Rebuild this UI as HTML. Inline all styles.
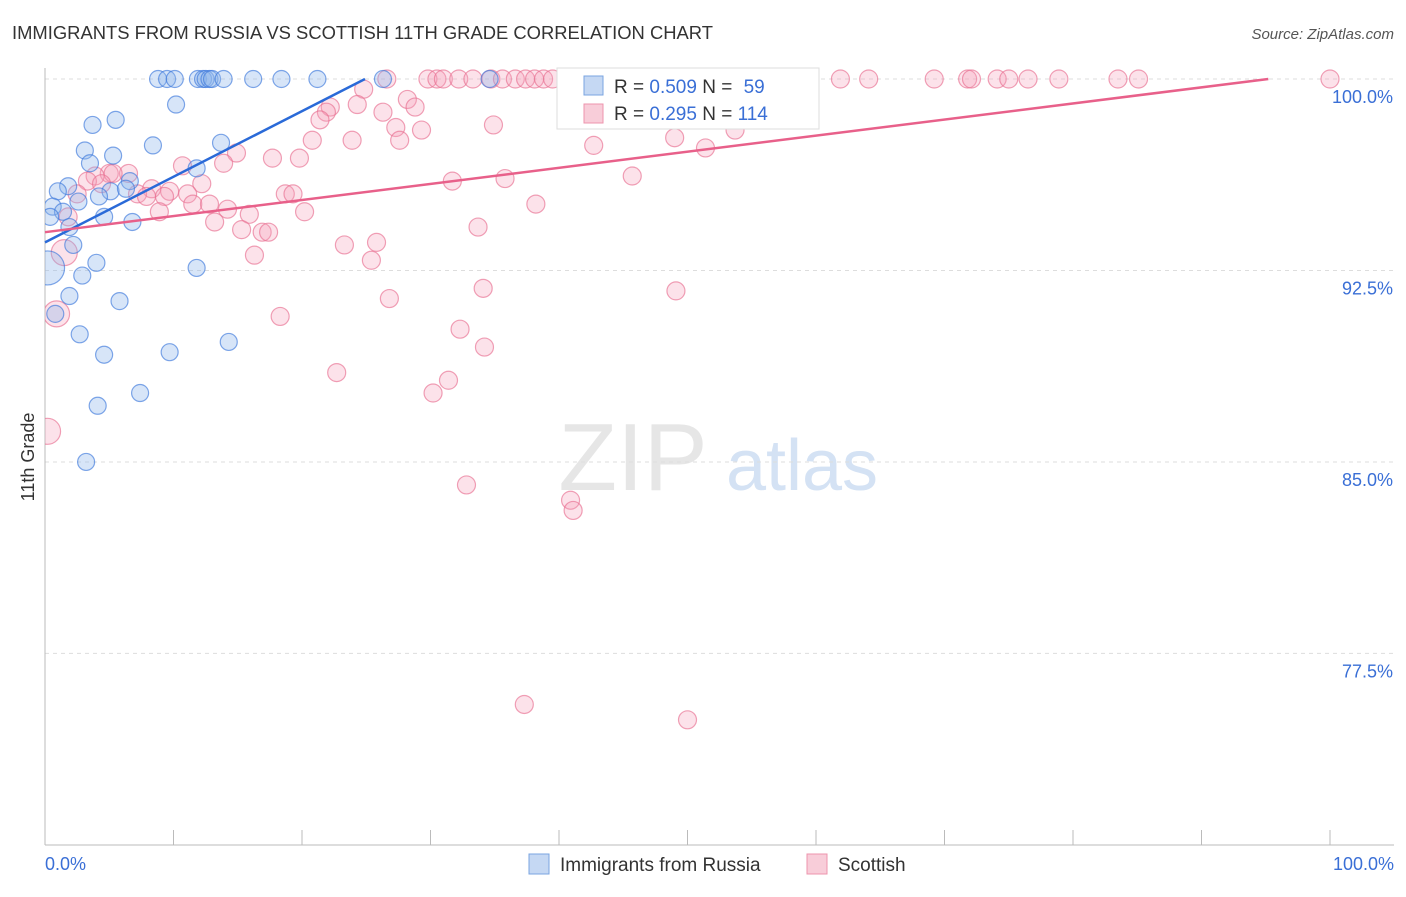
<!DOCTYPE html>
<html><head><meta charset="utf-8"><style>
body{margin:0;background:#fff;font-family:"Liberation Sans",sans-serif;}
svg text{font-family:"Liberation Sans",sans-serif;}
</style></head><body>
<svg id="chart" width="1406" height="892" viewBox="0 0 1406 892" xmlns="http://www.w3.org/2000/svg">
<defs><clipPath id="plotClip"><rect x="45" y="60" width="1360" height="785"/></clipPath></defs>
<text x="12" y="39" font-size="18.4" fill="#333">IMMIGRANTS FROM RUSSIA VS SCOTTISH 11TH GRADE CORRELATION CHART</text>
<text x="1394" y="39" font-size="15" fill="#555" text-anchor="end" font-style="italic">Source: ZipAtlas.com</text>
<g>
<text x="633" y="490" font-size="96" fill="#e6e6e6" font-family="Liberation Serif,serif" text-anchor="middle">ZIP</text>
<text x="802" y="490" font-size="72" fill="#d4e2f4" text-anchor="middle">atlas</text>
</g>
<g id="grid"></g>
<g id="axes"></g>
<text transform="translate(34,457) rotate(-90)" font-size="18" fill="#333" text-anchor="middle">11th Grade</text>
<g id="pinkPts" clip-path="url(#plotClip)"></g>
<g id="bluePts" clip-path="url(#plotClip)"></g>
<g id="lines"></g>
<g>
<rect x="557" y="68" width="262" height="61" fill="#fff" stroke="#ddd"/>
<rect x="584" y="76" width="19" height="19" fill="#c5d8f3" stroke="#7aa4e0"/>
<text x="614" y="93" font-size="19" fill="#333">R = <tspan fill="#3a6fd6">0.509</tspan>   N = <tspan fill="#3a6fd6" dx="6">59</tspan></text>
<rect x="584" y="104" width="19" height="19" fill="#f8cdd9" stroke="#ee94ad"/>
<text x="614" y="120" font-size="19" fill="#333">R = <tspan fill="#3a6fd6">0.295</tspan>   N = <tspan fill="#3a6fd6">114</tspan></text>
</g>
<g>
<rect x="529" y="854" width="20" height="20" fill="#c5d8f3" stroke="#7aa4e0"/>
<text x="560" y="871" font-size="19" fill="#333">Immigrants from Russia</text>
<rect x="807" y="854" width="20" height="20" fill="#f8cdd9" stroke="#ee94ad"/>
<text x="838" y="871" font-size="19" fill="#333">Scottish</text>
</g>
</svg>
<script>
const yTicks=[100,92.5,85,77.5];
const yTickLabels=["100.0%","92.5%","85.0%","77.5%"];
const xEndLabels=["0.0%","100.0%"];
const blueX=[8.8,9.5,10.1,11.9,12.3,12.5,12.8,13.0,13.9,16.2,18.4,21.2,26.3,34.6,10.2,5.5,3.7,8.4,13.7,3.1,5.3,3.5,11.8,6.6,1.8,1.0,5.1,4.2,6.3,2.6,0.6,1.4,4.6,6.8,1.9,0.4,2.2,4.0,11.8,0.2,2.9,1.9,5.8,0.8,2.7,14.3,4.6,9.7,7.4,4.1,3.2];
const blueY=[100,100,100,100,100,100,100,100,100,100,100,100,100,100,99.0,98.4,98.2,97.4,97.5,97.2,97.0,96.7,96.5,96.0,95.8,95.6,95.6,95.4,95.7,95.2,95.0,94.8,94.6,94.4,94.2,94.6,93.5,92.8,92.6,92.6,92.3,91.5,91.3,90.8,90.0,89.7,89.2,89.3,87.7,87.2,85.0];
const pinkX=[26.6,29.8,30.5,31.0,32.2,33.3,34.7,35.6,36.6,37.4,38.1,38.8,39.5,41.4,43.0,44.1,45.5,46.9,48.2,50.2,51.9,52.8,54.7,56.3,58.4,59.2,61.9,64.1,69.2,71.8,72.1,74.1,75.0,76.5,78.9,83.5,85.1,100,
24.8,22.2,24.3,28.2,28.8,21.9,21.4,26.3,27.3,29.3,27.6,34.9,23.9,53.7,49.0,20.8,51.4,42.7,14.9,17.7,19.8,10.7,13.9,6.5,5.0,3.9,5.3,45.7,3.3,35.8,31.7,12.2,4.4,8.3,9.7,7.2,11.1,2.5,18.7,19.3,7.9,9.3,11.5,12.8,14.2,15.9,20.2,8.9,38.2,1.8,13.2,15.3,16.9,17.4,33.7,23.3,25.8,16.3,25.4,1.5,26.8,18.3,34.1,49.1,0.9,32.3,34.2,22.7,31.4,30.2,0.2,32.8,40.9,41.1,37.3,50.0];
const pinkY=[100,100,100,100,100,100,100,100,100,100,100,100,100,100,100,100,100,100,100,100,100,100,100,100,100,100,100,100,100,100,100,100,100,100,100,100,100,100,
99.6,98.9,99.0,99.2,98.9,98.7,98.4,98.7,98.1,98.0,97.6,98.2,97.6,98.0,97.7,97.6,97.3,97.4,97.1,96.9,96.9,96.6,96.7,96.3,96.3,96.2,96.3,96.2,96.0,96.1,96.0,95.9,95.9,95.7,95.6,95.5,95.5,95.5,95.5,95.5,95.4,95.4,95.1,95.1,94.9,94.7,94.8,94.8,95.1,94.6,94.4,94.1,94.0,94.0,94.2,93.5,93.6,93.1,92.9,93.2,91.4,90.7,91.8,91.7,90.8,90.2,89.5,88.5,88.2,87.7,86.2,84.1,83.5,83.1,75.5,74.9];
const bigBlue=[39];
const bigPink=[97,102,108];
const blueLine=[0,93.6,24.9,100];
const pinkLine=[0,94.0,95.2,100];
const NS="http://www.w3.org/2000/svg";
const xs=v=>45+v*12.85;
const ys=v=>79+(100-v)*25.53;
function mk(p,t,a){const e=document.createElementNS(NS,t);for(const k in a)e.setAttribute(k,a[k]);p.appendChild(e);return e;}
const grid=document.getElementById('grid');
yTicks.forEach((t,i)=>{
 const l=mk(grid,'line',{x1:45,x2:1394,y1:ys(t),y2:ys(t),stroke:'#ddd','stroke-dasharray':'4,4'});
 
 
 const tx=mk(grid,'text',{x:1393,y:ys(t)+24,'font-size':18,fill:'#3a6fd6','text-anchor':'end'});
 tx.textContent=yTickLabels[i];
 
 
});
const ax=document.getElementById('axes');
mk(ax,'line',{x1:45,x2:45,y1:68,y2:845,stroke:'#bbb'});
mk(ax,'line',{x1:45,x2:1394,y1:845,y2:845,stroke:'#bbb'});
for(let i=0;i<=10;i++){const l=mk(ax,'line',{x1:xs(i*10),x2:xs(i*10),y1:830,y2:845,stroke:'#bbb'});
 
 }
const t0=mk(ax,'text',{x:45,y:870,'font-size':18,fill:'#3a6fd6'});t0.textContent=xEndLabels[0];


const t1=mk(ax,'text',{x:1394,y:870,'font-size':18,fill:'#3a6fd6','text-anchor':'end'});t1.textContent=xEndLabels[1];


const pp=document.getElementById('pinkPts');
pinkX.forEach((x,i)=>{const c=mk(pp,'circle',{cx:xs(x),cy:ys(pinkY[i]),r:bigPink.includes(i)?13:9,fill:'rgba(244,160,185,0.3)',stroke:'rgba(232,110,145,0.65)','stroke-width':1.2});
 
 });
const bp=document.getElementById('bluePts');
blueX.forEach((x,i)=>{const c=mk(bp,'circle',{cx:xs(x),cy:ys(blueY[i]),r:bigBlue.includes(i)?17:8.5,fill:'rgba(140,180,235,0.35)',stroke:'rgba(60,120,220,0.65)','stroke-width':1.2});
 
 });
const ln=document.getElementById('lines');
const b=mk(ln,'line',{x1:xs(blueLine[0]),y1:ys(blueLine[1]),x2:xs(blueLine[2]),y2:ys(blueLine[3]),stroke:'#2a6ad8','stroke-width':2.5});


const p=mk(ln,'line',{x1:xs(pinkLine[0]),y1:ys(pinkLine[1]),x2:xs(pinkLine[2]),y2:ys(pinkLine[3]),stroke:'#e8608a','stroke-width':2.5});


</script>
</body></html>
